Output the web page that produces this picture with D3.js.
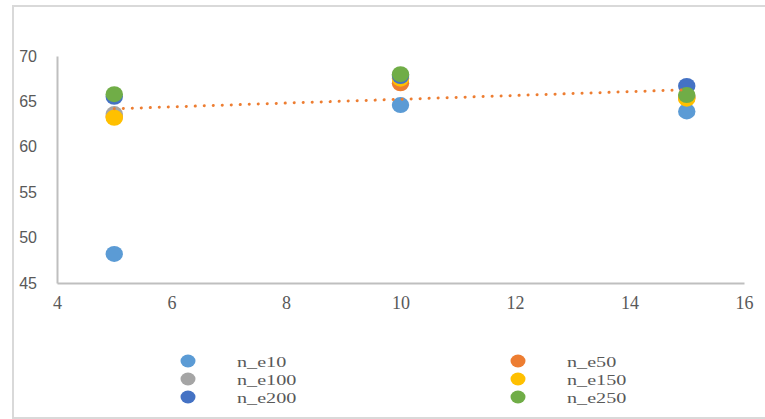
<!DOCTYPE html>
<html>
<head>
<meta charset="utf-8">
<script src="https://cdn.jsdelivr.net/npm/d3@7"></script>
<style>
  html, body { margin: 0; padding: 0; background: #fff; }
  svg { display: block; }
</style>
</head>
<body>
<svg id="chart" width="765" height="419"></svg>
<script>
// Runs of the experiment (x) and the score for each n_e setting
const xValues = [5, 10, 15];
const seriesNames = ["n_e10", "n_e50", "n_e100", "n_e150", "n_e200", "n_e250"];
const n_e10  = [48.2, 64.6, 63.9];
const n_e50  = [63.3, 67.0, 65.4];
const n_e100 = [63.6, 67.9, 65.5];
const n_e150 = [63.2, 67.5, 65.3];
const n_e200 = [65.5, 67.8, 66.7];
const n_e250 = [65.8, 68.0, 65.7];
const seriesColors = ["#5b9bd5", "#ed7d31", "#a5a5a5", "#ffc000", "#4472c4", "#70ad47"];
const xTicks = [4, 6, 8, 10, 12, 14, 16];
const yTicks = [45, 50, 55, 60, 65, 70];

const seriesValues = [n_e10, n_e50, n_e100, n_e150, n_e200, n_e250];
const series = seriesNames.map((name, i) => ({
  name, color: seriesColors[i],
  points: xValues.map((x, j) => ({ x, y: seriesValues[i][j] }))
}));

const svg = d3.select("#chart");

// Outer frame
svg.append("path")
  .attr("d", "M765,6 H13 V418 H765")
  .attr("fill", "none").attr("stroke", "#d9d9d9").attr("stroke-width", 2);

const x = d3.scaleLinear().domain([4, 16]).range([57, 744]);
const y = d3.scaleLinear().domain([45, 70]).range([283, 56]);

// Axes
const xAxis = svg.append("g").attr("transform", `translate(0,${y(45)})`)
  .call(d3.axisBottom(x).tickValues(xTicks).tickSize(0).tickPadding(13));
xAxis.select(".domain").attr("stroke", "#bfbfbf").attr("stroke-width", 2);
xAxis.selectAll("text")
  .attr("font-family", "'Liberation Serif', 'Times New Roman', serif")
  .attr("font-size", 18).attr("fill", "#595959");

const yAxis = svg.append("g").attr("transform", `translate(${x(4)},0)`)
  .call(d3.axisLeft(y).tickValues(yTicks).tickSize(0).tickPadding(20));
yAxis.select(".domain").attr("stroke", "#bfbfbf").attr("stroke-width", 2);
yAxis.selectAll("text")
  .attr("font-family", "'Liberation Sans', Arial, sans-serif")
  .attr("font-size", 16).attr("fill", "#595959");

// Points, later series drawn over earlier ones
series.forEach(s => {
  svg.append("g").selectAll("ellipse").data(s.points).join("ellipse")
    .attr("cx", d => x(d.x)).attr("cy", d => y(d.y))
    .attr("rx", 8.7).attr("ry", 8)
    .attr("fill", s.color);
});

// Linear trend of n_e50
const trendSeries = series[1].points;
const mx = d3.mean(trendSeries, d => d.x), my = d3.mean(trendSeries, d => d.y);
const slope = d3.sum(trendSeries, d => (d.x - mx) * (d.y - my)) / d3.sum(trendSeries, d => (d.x - mx) ** 2);
const xExt = d3.extent(trendSeries, d => d.x);
svg.append("line")
  .attr("x1", x(xExt[0])).attr("y1", y(my + slope * (xExt[0] - mx)))
  .attr("x2", x(xExt[1])).attr("y2", y(my + slope * (xExt[1] - mx)))
  .attr("stroke", "#ed7d31").attr("stroke-width", 3)
  .attr("stroke-linecap", "round").attr("stroke-dasharray", "0.1 8.9");

// Legend in two columns, labels set wide
const legendCols = [188, 518];
const legendRows = [361, 379, 397];
const legend = svg.append("g").selectAll("g").data(series).join("g")
  .attr("transform", (d, i) => `translate(${legendCols[i % 2]},${legendRows[Math.floor(i / 2)]})`);
legend.append("ellipse").attr("rx", 7.5).attr("ry", 6.5).attr("fill", d => d.color);
legend.append("text")
  .attr("transform", "translate(49,6) scale(1.3,1)")
  .attr("font-family", "'Liberation Serif', 'Times New Roman', serif")
  .attr("font-size", 15.5).attr("fill", "#595959")
  .text(d => d.name);
</script>
</body>
</html>
